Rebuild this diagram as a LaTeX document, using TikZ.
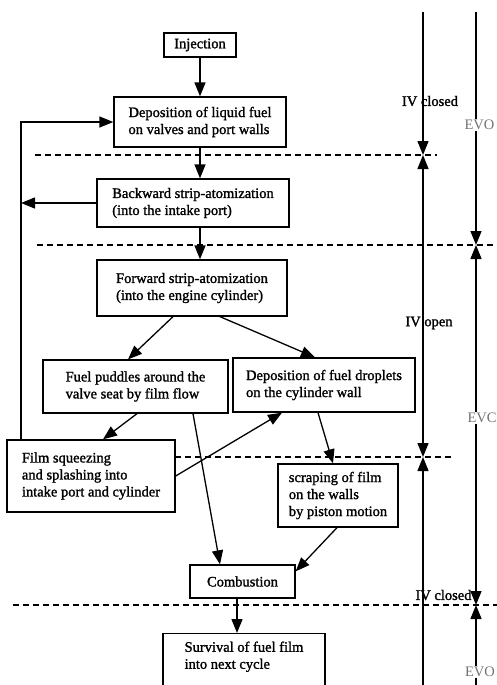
\documentclass[tikz,border=0pt]{standalone}
\usepackage{fontspec}
\setmainfont{Liberation Serif}[FakeBold=1.4]
\usepackage{tikz}
\usetikzlibrary{arrows.meta}

\begin{document}
\begin{tikzpicture}[x=1pt,y=-1pt,line width=1.3pt,
    >={Triangle[length=14pt,width=11pt]},
    every node/.style={font=\fontsize{14.5}{17}\selectfont},
    box/.style 2 args={draw,minimum width=#1,minimum height=#2,inner sep=0pt,align=left},
    flow/.style={->},
    cut/.style={dash pattern=on 6pt off 4pt},
    evt/.style={text=black!55,fill=white,inner sep=1pt,font=\fontsize{14.5}{17}\addfontfeature{FakeBold=0}}]
    \useasboundingbox (0,0) rectangle (497,685);
    \clip (0,0) rectangle (497,685);
    % process boxes
    \node[box={72}{24}] (inj) at (200,45) {Injection};
    \node[box={172}{50}] (dep) at (200,122) {Deposition of liquid fuel\\on valves and port walls};
    \node[box={192}{48}] (back) at (193,203) {Backward strip-atomization\\(into the intake port)};
    \node[box={190}{56}] (fwd) at (192,288) {Forward strip-atomization\\(into the engine cylinder)};
    \node[box={185}{53}] (pud) at (135.5,386.5) {Fuel puddles around the\\valve seat by film flow};
    \node[box={182}{54}] (drop) at (324,385) {Deposition of fuel droplets\\on the cylinder wall};
    \node[box={168}{72}] (film) at (91,476) {Film squeezing\\and splashing into\\intake port and cylinder};
    \node[box={120}{63}] (scr) at (338,495.5) {scraping of film\\on the walls\\by piston motion};
    \node[box={105}{33}] (comb) at (242.5,581.5) {Combustion};
    \node[box={162}{60},anchor=north] (surv) at (244,633) {Survival of fuel film\\into next cycle\\\mbox{}};
    \coordinate (lpx) at (21,0);
    % flow between boxes
    \draw[flow] (inj) -- (dep);
    \draw[flow] (dep.south) -- (dep.south |- back.north);
    \draw[flow] (dep.south |- back.south) -- (dep.south |- fwd.north);
    \draw[flow] (back.west) -- (back.west -| lpx);
    \draw[flow] (film.north -| lpx) |- (dep.west);
    \draw[flow] ([xshift=-19pt]fwd.south) -- ([xshift=-7.5pt]pud.north);
    \draw[flow] ([xshift=28pt]fwd.south) -- ([xshift=-9pt]drop.north);
    \draw[flow] ([xshift=1.5pt]pud.south) -- ([xshift=12pt]film.north);
    \draw[flow] ([xshift=57.5pt]pud.south) -- ([xshift=-22.5pt]comb.north);
    \draw[flow] (film.east) -- ([xshift=-42pt]drop.south);
    \draw[flow] ([xshift=-6pt]drop.south) -- ([xshift=-5pt]scr.north);
    \draw[flow] ([xshift=-1pt]scr.south) -- ([yshift=-7pt]comb.north east);
    \draw[flow] ([xshift=-5.5pt]comb.south) -- ([xshift=-7pt]surv.north);
    % phase boundaries
    \draw[cut] (35,155) -- (437,155);
    \draw[cut] (37,245) -- (497,245);
    \draw[cut] (175,457) -- (453,457);
    \draw[cut] (13,605) -- (497,605);
    % valve timing
    \node (ivc) at (430,101) {IV closed};
    \node (ivo) at (429,323) {IV open};
    \node (ivc2) at (443.5,595) {IV closed};
    \draw[->] (423,12) -- (423,155);
    \draw[<->] (423,155) -- (423,457);
    \draw[<-] (423,457) -- (423,690);
    \draw[->] (476,12) -- (476,245);
    \draw[<->] (476,245) -- (476,605);
    \draw[<-] (476,605) -- (476,690);
    \node[evt] (evo) at (479.5,125) {EVO};
    \node[evt] (evc) at (482,418) {EVC};
    \node[evt] (evo2) at (480,672) {EVO};
\end{tikzpicture}
\end{document}
